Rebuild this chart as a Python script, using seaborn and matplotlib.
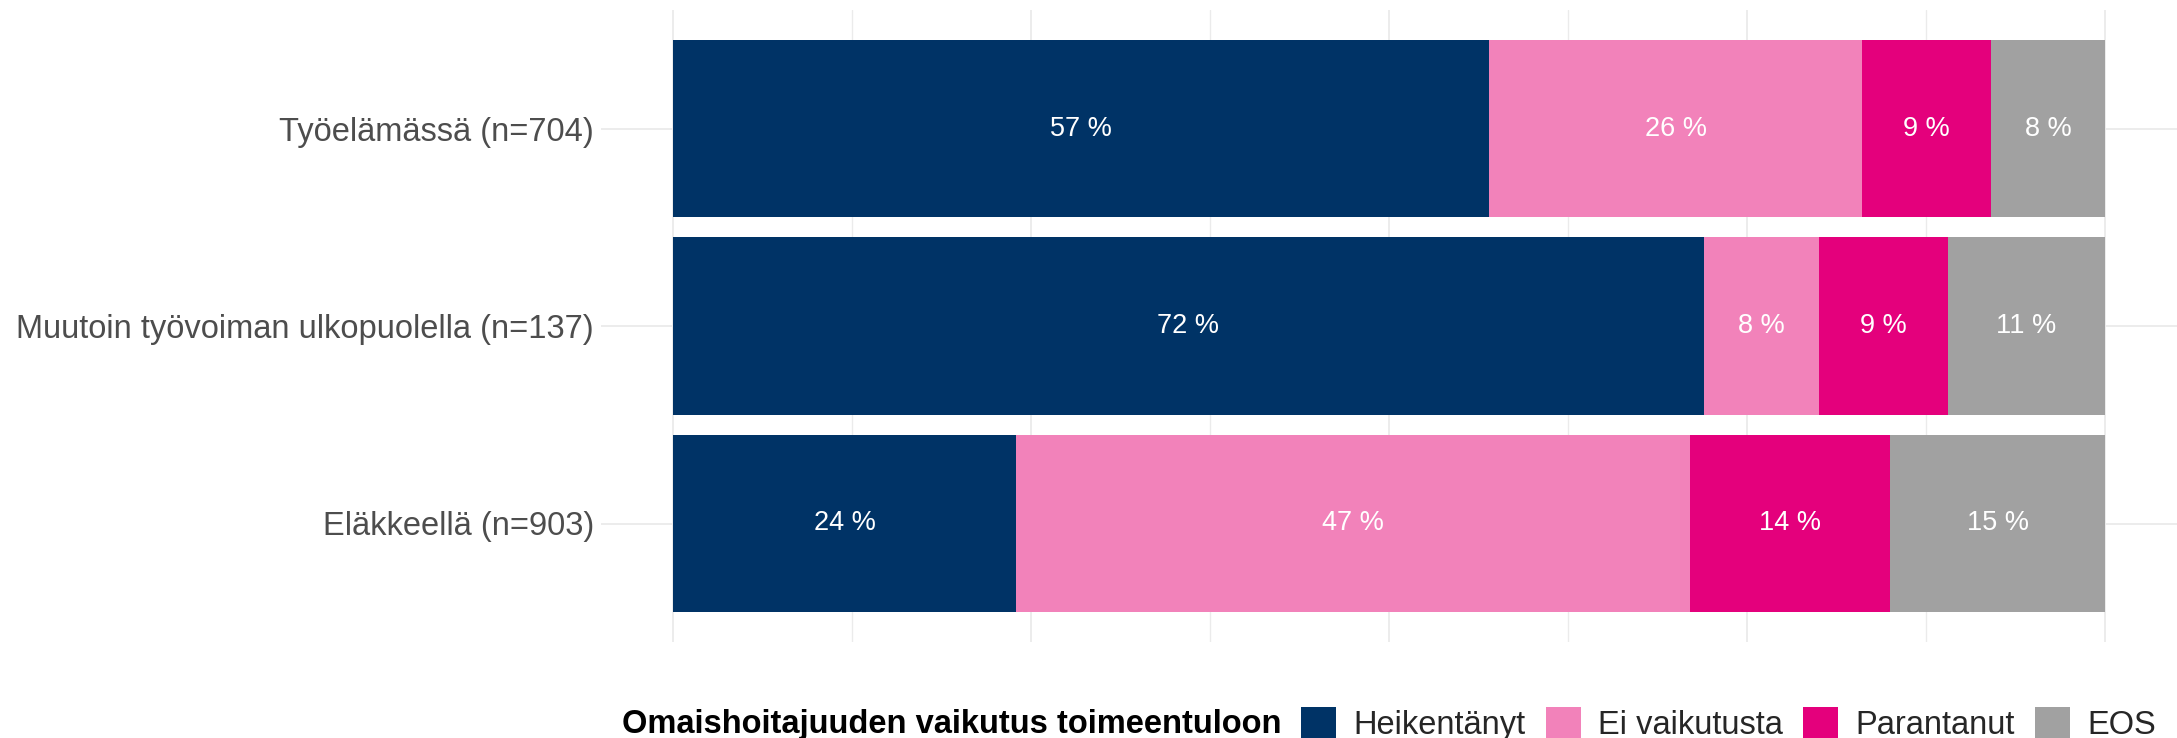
import numpy as np
import pandas as pd
import matplotlib
matplotlib.use("Agg")
import matplotlib.pyplot as plt
from matplotlib.patches import Patch
import seaborn as sns

# data
groups = ["Työelämässä (n=704)", "Muutoin työvoiman ulkopuolella (n=137)", "Eläkkeellä (n=903)"]
answers = ["Heikentänyt", "Ei vaikutusta", "Parantanut", "EOS"]
heikentanyt = [57, 72, 24]
ei_vaikutusta = [26, 8, 47]
parantanut = [9, 9, 14]
eos = [8, 11, 15]
colors = ["#003366", "#F282BA", "#E4007C", "#A1A1A1"]
legend_title = "Omaishoitajuuden vaikutus toimeentuloon"

sns.set_theme(style="whitegrid")
plt.rcParams["font.family"] = ["Liberation Sans", "DejaVu Sans"]

df = pd.DataFrame({"group": groups, "Heikentänyt": heikentanyt,
                   "Ei vaikutusta": ei_vaikutusta, "Parantanut": parantanut, "EOS": eos})
cum = df[answers].cumsum(axis=1)

fig = plt.figure(figsize=(21.77, 7.38), dpi=100)
ax = fig.add_axes([601 / 2177, 1 - 642 / 738, 1 - 601 / 2177, 632 / 738])

# stacked bars: draw cumulative totals from the widest down
for ans, col in reversed(list(zip(answers, colors))):
    sns.barplot(x=cum[ans], y=df["group"], orient="h", color=col, saturation=1,
                width=0.9, linewidth=0, errorbar=None, ax=ax, zorder=2)

# segment labels
for i in range(len(groups)):
    for ans in answers:
        v = df.loc[i, ans]
        ax.text(cum.loc[i, ans] - v / 2, i, f"{v} %", ha="center", va="center",
                color="white", fontsize=19.5, zorder=3)

ax.set_xlim(-5, 105)
ax.set_ylim(len(groups) - 0.4, -0.6)
ax.set_xticks(np.arange(0, 101, 25))
ax.set_xticks(np.arange(12.5, 100, 25), minor=True)
ax.set_xticklabels([])
ax.grid(which="major", axis="both", color="#EBEBEB", linewidth=1.3, zorder=0)
ax.grid(which="minor", axis="x", color="#EBEBEB", linewidth=1.0, zorder=0)
ax.set_axisbelow(True)
ax.tick_params(axis="both", which="both", length=0)
ax.tick_params(axis="y", labelsize=23.5, labelcolor="#4D4D4D", pad=5)
ax.set_xlabel("")
ax.set_ylabel("")
for s in ax.spines.values():
    s.set_visible(False)

handles = [Patch(facecolor=c, edgecolor="none") for c in colors]
fig.legend(handles, answers, loc="center left", bbox_to_anchor=(1301 / 2177, 14 / 738),
           ncol=4, frameon=False, fontsize=23.5, handlelength=1.07, handleheight=1.07,
           handletextpad=0.55, columnspacing=0.6, borderpad=0, borderaxespad=0)
fig.text(1281 / 2177, 14 / 738, legend_title, ha="right", va="center",
         fontsize=23.5, fontweight="bold", color="black")

fig.savefig("out.png", dpi=100)
